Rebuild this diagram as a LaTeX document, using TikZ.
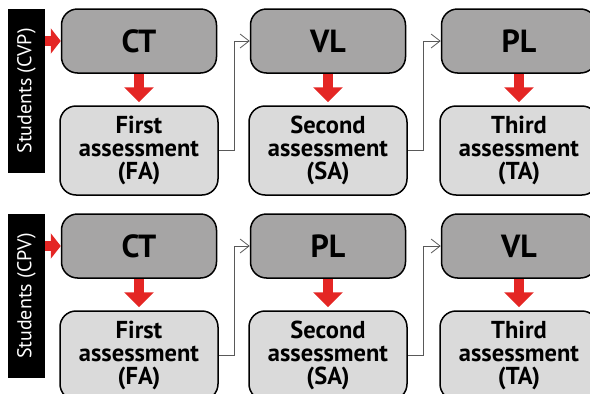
\documentclass[tikz,border=0pt]{standalone}
\usepackage{fontspec}
\setmainfont{PT Sans}
\usepackage{tikz}
\usetikzlibrary{arrows.meta,positioning}

\definecolor{boxdark}{RGB}{166,165,165}
\definecolor{boxlight}{RGB}{218,218,218}
\definecolor{arrowred}{RGB}{228,38,36}

\begin{document}
\begin{tikzpicture}[x=1pt,y=-1pt]
    \tikzset{phase/.style={draw=black,line width=1.5pt,rounded corners=16pt,fill=boxdark,
            minimum width=155pt,minimum height=64pt,font=\fontsize{32}{32}\selectfont\bfseries},
        test/.style={draw=black,line width=1.5pt,rounded corners=16pt,fill=boxlight,
            minimum width=158pt,minimum height=89pt,align=center,
            font=\fontsize{24.5}{23}\selectfont\bfseries},
        group/.style={fill=black,text=white,rotate=90,minimum width=164pt,minimum height=37pt,
            inner sep=0pt,font=\fontsize{20}{20}\selectfont},
        down/.style={arrowred,line width=10pt,-{Triangle[width=29pt,length=15pt]},shorten >=3pt},
        feed/.style={arrowred,line width=10pt,-{Triangle[width=25pt,length=10pt]}},
        link/.style={draw=black!65,line width=0.8pt,-{Straight Barb[width=14pt,length=9pt]}},}
    \path[use as bounding box,clip] (0,0) rectangle (590,394);

    \foreach \r/\yy/\grp/\two/\three in {1/0/CVP/VL/PL, 2/205/CPV/PL/VL}{
        % students bar and the three phases
        \node[group] (s\r) at (26.5,91+\yy) {Students (\grp)};
        \node[phase] (p\r a) at (139,41+\yy) {CT};
        \node[phase] (p\r b) at (328,41+\yy) {\two};
        \node[phase] (p\r c) at (519,41+\yy) {\three};
        % assessments
        \node[test] (t\r a) at (139,150.5+\yy) {First\\assessment\\(FA)};
        \node[test] (t\r b) at (328,150.5+\yy) {Second\\assessment\\(SA)};
        \node[test] (t\r c) at (519,150.5+\yy) {Third\\assessment\\(TA)};

        \draw[feed] (p\r a.west -| s\r.south) -- (p\r a.west);
        \draw[down] (p\r a) -- (t\r a);
        \draw[down] (p\r b) -- (t\r b);
        \draw[down] (p\r c) -- (t\r c);
        \draw[link] (t\r a.east) -- ++(16,0) |- (p\r b.west);
        \draw[link] (t\r b.east) -- ++(16,0) |- (p\r c.west);
    }
\end{tikzpicture}
\end{document}
